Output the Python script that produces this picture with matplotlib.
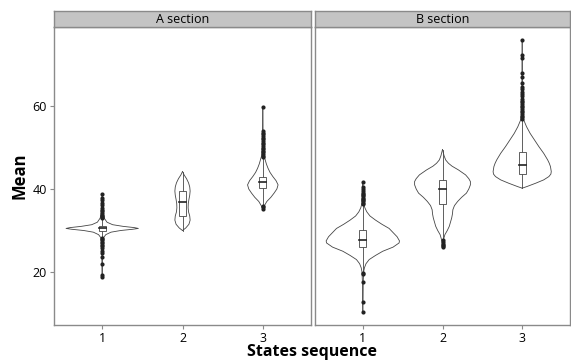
import matplotlib.pyplot as plt
from matplotlib.patches import Rectangle

plt.rcParams['font.family'] = ['Open Sans', 'DejaVu Sans']

panel_titles = ['A section', 'B section']
states = [1, 2, 3]

# violin outlines: value along y, half width (x units) at that value
a1_y = [18.8, 26.0, 28.2, 29.0, 29.6, 30.0, 30.3, 30.5, 30.7, 31.0, 31.4, 32.0, 33.0, 34.5, 38.8]
a1_w = [0.002, 0.005, 0.014, 0.045, 0.11, 0.23, 0.38, 0.45, 0.40, 0.26, 0.13, 0.06, 0.025, 0.01, 0.002]
a2_y = [30.0, 30.6, 31.5, 32.5, 33.5, 34.5, 35.5, 36.5, 37.5, 38.5, 39.5, 40.5, 41.5, 42.5, 43.4, 44.2]
a2_w = [0.0, 0.04, 0.08, 0.095, 0.09, 0.075, 0.07, 0.072, 0.08, 0.09, 0.095, 0.09, 0.075, 0.05, 0.02, 0.0]
a3_y = [35.2, 36.0, 37.0, 38.0, 39.0, 40.0, 41.0, 42.0, 43.0, 44.0, 45.0, 46.0, 47.0, 48.0, 50.0, 54.0, 59.8]
a3_w = [0.0, 0.02, 0.05, 0.10, 0.14, 0.175, 0.19, 0.165, 0.125, 0.09, 0.065, 0.045, 0.03, 0.015, 0.006, 0.003, 0.0]

b1_y = [10.4, 12.8, 17.7, 20.0, 21.0, 22.0, 23.0, 24.0, 25.0, 26.0, 27.0, 27.5, 28.5, 29.5, 30.5,
        31.5, 32.5, 33.5, 34.5, 35.5, 36.5, 38.0, 41.8]
b1_w = [0.0, 0.003, 0.005, 0.01, 0.02, 0.04, 0.08, 0.16, 0.25, 0.38, 0.455, 0.46, 0.43, 0.38, 0.33,
        0.24, 0.16, 0.09, 0.05, 0.025, 0.012, 0.006, 0.0]
b2_y = [25.9, 27.0, 28.0, 29.0, 30.0, 31.0, 32.0, 33.0, 34.0, 35.0, 36.0, 37.0, 38.0, 39.0, 40.0,
        41.0, 41.8, 42.5, 43.4, 44.6, 45.5, 46.2, 47.0, 48.0, 49.5]
b2_w = [0.0, 0.005, 0.015, 0.03, 0.06, 0.085, 0.10, 0.115, 0.125, 0.13, 0.15, 0.19, 0.24, 0.30, 0.33,
        0.35, 0.35, 0.33, 0.29, 0.20, 0.12, 0.075, 0.04, 0.02, 0.0]
b3_y = [40.2, 40.6, 41.4, 42.2, 43.0, 43.6, 44.2, 45.4, 46.2, 47.0, 48.6, 50.2, 51.8, 53.4, 55.0,
        56.6, 58.0, 62.0, 75.9]
b3_w = [0.0, 0.06, 0.17, 0.27, 0.335, 0.36, 0.365, 0.355, 0.34, 0.32, 0.27, 0.21, 0.155, 0.10, 0.055,
        0.02, 0.008, 0.004, 0.0]

# boxplot stats: lower whisker, q1, median, q3, upper whisker
a_box = [[28.4, 30.0, 30.5, 31.1, 32.7],
         [30.0, 33.5, 36.8, 39.4, 44.2],
         [36.1, 40.2, 41.6, 43.0, 47.3]]
b_box = [[20.0, 26.0, 27.8, 30.1, 36.2],
         [27.8, 36.3, 40.0, 42.1, 49.5],
         [40.2, 43.6, 45.8, 48.8, 56.6]]

a1_out = [18.8, 19.3, 22.0, 23.5, 24.5, 25.0, 25.8, 26.2, 26.6, 27.0, 27.3, 27.6, 27.9, 28.2,
          32.9, 33.2, 33.5, 33.8, 34.2, 34.6, 35.0, 35.4, 36.1, 36.6, 37.3, 37.9, 38.8]
a2_out = []
a3_out = [35.3, 35.6, 35.9, 47.6, 48.0, 48.4, 48.8, 49.2, 49.6, 50.0, 50.4, 50.8, 51.2, 51.6,
          52.0, 52.4, 52.8, 53.2, 53.6, 54.0, 59.8]
b1_out = [10.4, 12.8, 17.7, 19.5, 19.8, 36.4, 36.7, 37.0, 37.3, 37.6, 37.9, 38.2, 38.5, 38.8,
          39.1, 39.5, 39.9, 40.6, 41.8]
b2_out = [26.0, 26.2, 26.5, 26.8, 27.2, 27.6]
b3_out = [56.9, 57.3, 57.7, 58.1, 58.5, 58.9, 59.3, 59.7, 60.1, 60.5, 60.9, 61.3, 61.8, 62.3,
          62.8, 63.4, 64.0, 64.6, 65.5, 67.1, 67.9, 71.6, 72.2, 75.9]

panels = [
    ([(a1_y, a1_w), (a2_y, a2_w), (a3_y, a3_w)], a_box, [a1_out, a2_out, a3_out]),
    ([(b1_y, b1_w), (b2_y, b2_w), (b3_y, b3_w)], b_box, [b1_out, b2_out, b3_out]),
]

W, H = 571, 362
fig = plt.figure(figsize=(W / 100, H / 100), dpi=100)

grey = '#8a8a8a'
line = '#454545'
box_w = 0.09
lefts = [54, 315]
widths = [257, 255]
bottom, top = 325, 27

for k, (profiles, boxes, outs) in enumerate(panels):
    ax = fig.add_axes([lefts[k] / W, 1 - bottom / H, widths[k] / W, (bottom - top) / H])
    ax.set_xlim(0.4, 3.6)
    ax.set_ylim(7.23, 79.04)

    for i, (ys, ws) in enumerate(profiles):
        x = states[i]
        lx = [x - w for w in ws]
        rx = [x + w for w in ws]
        ax.fill_betweenx(ys, lx, rx, color='white', zorder=1)
        ax.plot(lx, ys, color=line, lw=0.6, zorder=2)
        ax.plot(rx, ys, color=line, lw=0.6, zorder=2)

        lo, q1, med, q3, hi = boxes[i]
        ax.plot([x, x], [lo, q1], color=line, lw=0.6, zorder=3)
        ax.plot([x, x], [q3, hi], color=line, lw=0.6, zorder=3)
        ax.add_patch(Rectangle((x - box_w / 2, q1), box_w, q3 - q1, facecolor='white',
                               edgecolor=line, lw=0.6, zorder=4))
        ax.plot([x - box_w / 2, x + box_w / 2], [med, med], color='#222222', lw=1.2, zorder=5)
        if outs[i]:
            ax.plot([x] * len(outs[i]), outs[i], 'o', ms=3, color='#222222', mew=0, zorder=6)

    ax.set_xticks(states)
    ax.set_xticklabels([str(s) for s in states])
    ax.set_yticks([20, 40, 60])
    for sp in ax.spines.values():
        sp.set_color(grey)
        sp.set_linewidth(1.0)
    ax.tick_params(length=3, width=0.8, color=grey, labelsize=9, labelcolor='black', pad=2)
    if k == 1:
        ax.tick_params(axis='y', left=False, labelleft=False)

    # facet strip
    st = fig.add_axes([lefts[k] / W, 1 - top / H, widths[k] / W, 16 / H])
    st.set_facecolor('#c4c4c4')
    st.set_xticks([])
    st.set_yticks([])
    for sp in st.spines.values():
        sp.set_color(grey)
        sp.set_linewidth(1.0)
    st.text(0.5, 0.45, panel_titles[k], ha='center', va='center', fontsize=9, transform=st.transAxes)

fig.text(312 / W, 1 - 344 / H, 'States sequence', ha='center', va='top', fontsize=11.5, fontweight='bold')
fig.text(20 / W, 1 - 176 / H, 'Mean', ha='center', va='center', rotation=90, fontsize=12, fontweight='bold')

fig.savefig('out.png', dpi=100)
